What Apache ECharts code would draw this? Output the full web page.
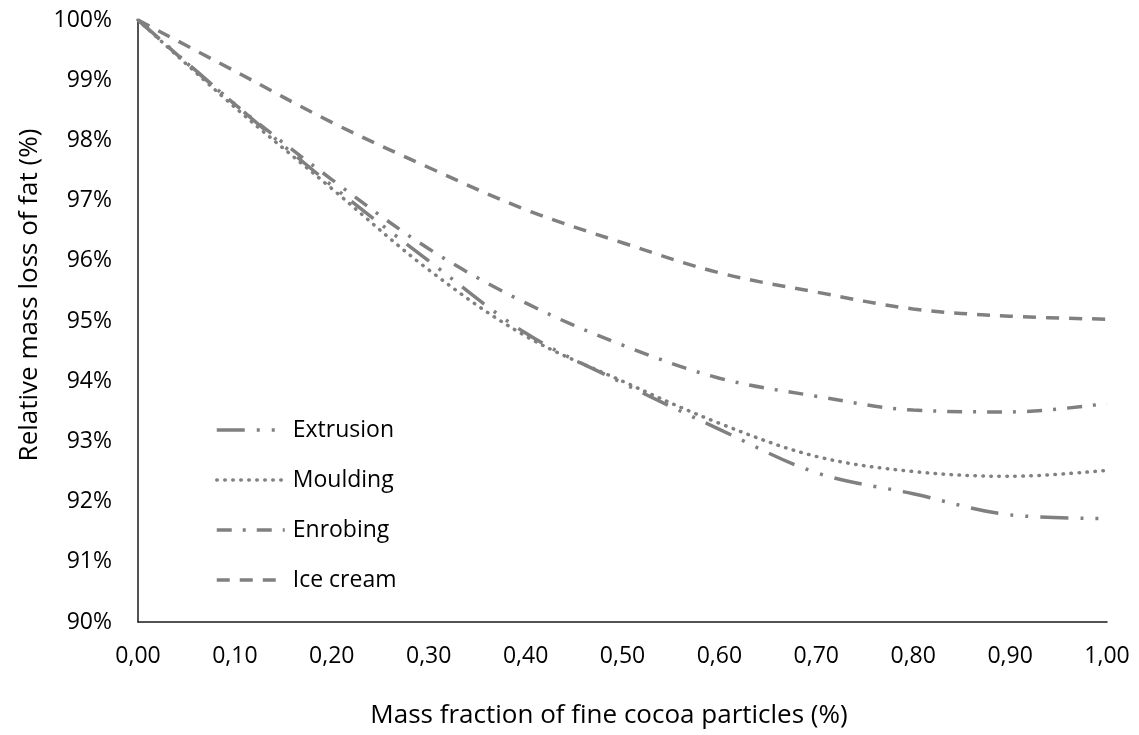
<!DOCTYPE html>
<html>
<head>
<meta charset="utf-8">
<script src="https://cdn.jsdelivr.net/npm/echarts@6/dist/echarts.min.js"></script>
<style>
html,body{margin:0;padding:0;background:#fff;}
#chart{width:1139px;height:735px;}
</style>
</head>
<body>
<div id="chart"></div>
<script>
const xValues = [0, 0.1, 0.2, 0.3, 0.4, 0.5, 0.6, 0.7, 0.8, 0.9, 1.0];
const extrusion = [100, 98.6, 97.25, 96.0, 94.8, 93.97, 93.2, 92.48, 92.13, 91.78, 91.72];
const moulding  = [100, 98.55, 97.2, 95.85, 94.75, 94.0, 93.3, 92.75, 92.5, 92.42, 92.52];
const enrobing  = [100, 98.6, 97.35, 96.2, 95.3, 94.6, 94.05, 93.75, 93.52, 93.49, 93.63];
const iceCream  = [100, 99.15, 98.3, 97.55, 96.85, 96.3, 95.8, 95.48, 95.2, 95.08, 95.03];
const seriesNames = ['Extrusion', 'Moulding', 'Enrobing', 'Ice cream'];
const xTitle = 'Mass fraction of fine cocoa particles (%)';
const yTitle = 'Relative mass loss of fat (%)';

const FONT = 'Open Sans';
const GREY = '#808080';
const pairs = arr => xValues.map((x, i) => [x, arr[i]]);

const styles = [
  {type: [28, 12, 3, 12, 3, 12], cap: 'butt'},
  {type: [0.5, 7.5], cap: 'round'},
  {type: [15, 11, 3, 11], cap: 'butt'},
  {type: [13, 10], cap: 'butt'}
];
const allData = [extrusion, moulding, enrobing, iceCream];

const chart = echarts.init(document.getElementById('chart'), null, {renderer: 'canvas'});
chart.setOption({
  animation: false,
  backgroundColor: '#fff',
  grid: {left: 138, right: 32, top: 20, bottom: 113, containLabel: false},
  xAxis: {
    type: 'value', min: 0, max: 1, interval: 0.1,
    axisLine: {lineStyle: {color: '#1a1a1a', width: 1.5}},
    axisTick: {show: false},
    splitLine: {show: false},
    axisLabel: {
      color: '#000', fontFamily: FONT, fontSize: 23, margin: 23,
      formatter: v => v.toFixed(2).replace('.', ',')
    }
  },
  yAxis: {
    type: 'value', min: 90, max: 100, interval: 1,
    axisLine: {show: true, lineStyle: {color: '#1a1a1a', width: 1.5}},
    axisTick: {show: false},
    splitLine: {show: false},
    axisLabel: {
      color: '#000', fontFamily: FONT, fontSize: 23, margin: 26,
      formatter: v => Math.round(v) + '%'
    }
  },
  legend: {
    orient: 'vertical', left: 215, top: 417, itemGap: 24, padding: 0,
    itemWidth: 68, itemHeight: 14,
    lineStyle: {width: 3.5},
    itemStyle: {opacity: 0},
    textStyle: {fontFamily: FONT, fontSize: 23, color: '#000', lineHeight: 26, padding: [0, 0, 0, 3]},
    data: seriesNames
  },
  graphic: [
    {type: 'text', x: 609, y: 716,
     style: {text: xTitle, fontFamily: FONT, fontSize: 26, fill: '#000', align: 'center', verticalAlign: 'middle'}},
    {type: 'text', x: 30, y: 295, rotation: Math.PI / 2,
     style: {text: yTitle, fontFamily: FONT, fontSize: 26, fill: '#000', align: 'center', verticalAlign: 'middle'}}
  ],
  series: seriesNames.map((name, i) => ({
    name, type: 'line', data: pairs(allData[i]), smooth: 0.35,
    symbol: 'none', showSymbol: false,
    color: GREY,
    lineStyle: {color: GREY, width: 3.5, type: styles[i].type, cap: styles[i].cap}
  }))
});
</script>
</body>
</html>
